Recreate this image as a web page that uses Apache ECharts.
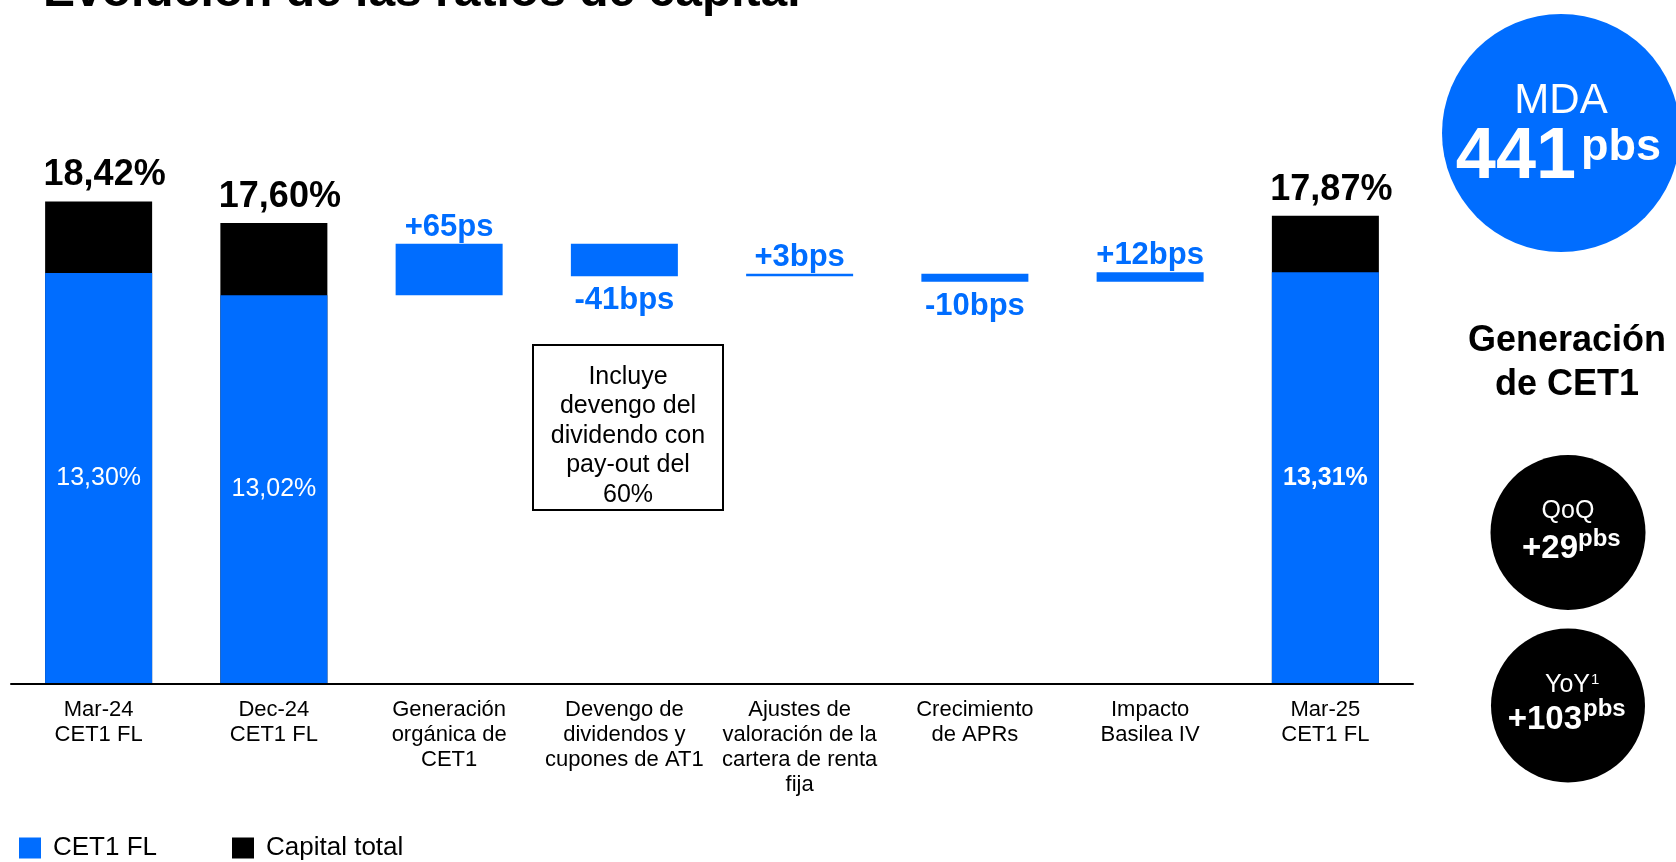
<!DOCTYPE html>
<html>
<head>
<meta charset="utf-8">
<script src="https://cdn.jsdelivr.net/npm/echarts@6/dist/echarts.min.js"></script>
<style>
  html, body { margin: 0; padding: 0; background: #ffffff; }
  #chart { width: 1676px; height: 862px; }
</style>
</head>
<body>
<div id="chart"></div>
<script>
// ---- data ----
const categories = [
  'Mar-24\nCET1 FL',
  'Dec-24\nCET1 FL',
  'Generación\norgánica de\nCET1',
  'Devengo de\ndividendos y\ncupones de AT1',
  'Ajustes de\nvaloración de la\ncartera de renta\nfija',
  'Crecimiento\nde APRs',
  'Impacto\nBasilea IV',
  'Mar-25\nCET1 FL'
];
const cet1Values = [13.30, 13.02, null, null, null, null, null, 13.31];
const capitalTotalValues = [18.42, 17.60, null, null, null, null, null, 17.87];
// quarterly bridge Dec-24 -> Mar-25, in percentage points
const bridgeSteps = [0.65, -0.41, 0.03, -0.10, 0.12];
const bridgeLabels = ['+65ps', '-41bps', '+3bps', '-10bps', '+12bps'];
const legendNames = ['CET1 FL', 'Capital total'];

// ---- styling ----
const BLUE = '#006DFF';
const FONT = '"Liberation Sans", Arial, Helvetica, sans-serif';
const pct = v => v.toFixed(2).replace('.', ',') + '%';

// waterfall: invisible base + visible step, stacked
const bridgeStart = 2;
const baseData = categories.map(() => '-');
const stepData = categories.map(() => '-');
let level = cet1Values[1];
bridgeSteps.forEach((d, i) => {
  const idx = bridgeStart + i;
  const next = level + d;
  baseData[idx] = Math.min(level, next);
  stepData[idx] = {
    value: Math.abs(d),
    label: {
      position: d >= 0 ? 'top' : 'bottom',
      distance: d >= 0 ? 1 : 9,
      formatter: bridgeLabels[i]
    }
  };
  level = next;
});

const cet1Data = cet1Values.map((v, i) => v == null ? '-' : {
  value: v,
  label: { fontWeight: i === cet1Values.length - 1 ? 'bold' : 'normal' }
});
const totalData = capitalTotalValues.map(v => v == null ? '-' : v);

const BAR_W = 107;

function txt(x, y, text, size, weight, color, align, extra) {
  return {
    type: 'text', x: x, y: y, silent: true, z: 10,
    style: Object.assign({
      text: text,
      font: weight + ' ' + size + 'px ' + FONT,
      fill: color,
      align: align || 'center',
      verticalAlign: 'middle'
    }, extra || {})
  };
}

const chart = echarts.init(document.getElementById('chart'), null, { renderer: 'canvas' });
chart.setOption({
  animation: false,
  backgroundColor: '#ffffff',
  textStyle: { fontFamily: FONT },
  grid: { left: 11, right: 263, top: 160, bottom: 178, containLabel: false },
  legend: {
    data: legendNames,
    left: 19, top: 835, padding: 0,
    orient: 'horizontal',
    icon: 'rect', itemWidth: 22, itemHeight: 21, itemGap: 75,
    selectedMode: false,
    textStyle: { fontSize: 26, color: '#000', fontFamily: FONT, padding: [0, 0, 0, 7] }
  },
  xAxis: {
    type: 'category',
    data: categories,
    axisTick: { show: false },
    axisLine: { show: true, lineStyle: { color: '#000', width: 2 } },
    axisLabel: {
      interval: 0, margin: 13,
      fontSize: 22, lineHeight: 25, color: '#000', fontFamily: FONT
    },
    z: 5
  },
  yAxis: [
    { type: 'value', min: 8.1, max: 14.73, show: false, splitLine: { show: false } },
    { type: 'value', min: 0, max: 20, show: false, splitLine: { show: false } }
  ],
  series: [
    {
      name: 'Capital total', type: 'bar', yAxisIndex: 1,
      data: totalData, barWidth: BAR_W, barGap: '-100%', clip: true,
      itemStyle: { color: '#000000' },
      label: {
        show: true, position: 'top', distance: 8, offset: [6, 0],
        formatter: p => pct(p.value),
        fontSize: 36, fontWeight: 'bold', color: '#000', fontFamily: FONT
      }
    },
    {
      name: 'base', type: 'bar', stack: 'bridge', yAxisIndex: 0,
      data: baseData, barWidth: BAR_W, barGap: '-100%', clip: true,
      silent: true,
      itemStyle: { color: 'rgba(0,0,0,0)' },
      label: { show: false }
    },
    {
      name: 'bridge', type: 'bar', stack: 'bridge', yAxisIndex: 0,
      data: stepData, barWidth: BAR_W, barGap: '-100%', clip: true,
      itemStyle: { color: BLUE },
      label: {
        show: true, fontSize: 31, fontWeight: 'bold', color: BLUE, fontFamily: FONT
      }
    },
    {
      name: 'CET1 FL', type: 'bar', yAxisIndex: 0,
      data: cet1Data, barWidth: BAR_W, barGap: '-100%', clip: true,
      itemStyle: { color: BLUE },
      label: {
        show: true, position: 'inside',
        formatter: p => pct(p.value),
        fontSize: 25, color: '#fff', fontFamily: FONT
      }
    }
  ],
  graphic: [
    // heading, partially above the top edge
    txt(43, -7, 'Evolución de las ratios de capital', 48, 'bold', '#000', 'left'),
    // note box on the dividend step
    {
      type: 'rect', silent: true, z: 9,
      shape: { x: 533, y: 345, width: 190, height: 165 },
      style: { fill: '#fff', stroke: '#000', lineWidth: 2 }
    },
    txt(628, 436, 'Incluye\ndevengo del\ndividendo con\npay-out del\n60%', 25, 'normal', '#000', 'center', { lineHeight: 29.4 }),
    // MDA badge
    { type: 'circle', silent: true, z: 9, shape: { cx: 1561, cy: 133, r: 119 }, style: { fill: BLUE } },
    txt(1561, 101.5, 'MDA', 42, 'normal', '#fff', 'center'),
    txt(1576, 158.5, '441', 72, 'bold', '#fff', 'right'),
    txt(1581, 148, 'pbs', 45, 'bold', '#fff', 'left'),
    // CET1 generation
    txt(1567, 363, 'Generación\nde CET1', 36, 'bold', '#000', 'center', { lineHeight: 44.5 }),
    { type: 'circle', silent: true, z: 9, shape: { cx: 1568, cy: 532.5, r: 77.5 }, style: { fill: '#000' } },
    txt(1568, 511.5, 'QoQ', 25, 'normal', '#fff', 'center'),
    txt(1578, 548.5, '+29', 33, 'bold', '#fff', 'right'),
    txt(1578, 539, 'pbs', 24, 'bold', '#fff', 'left'),
    { type: 'circle', silent: true, z: 9, shape: { cx: 1568, cy: 705.5, r: 77 }, style: { fill: '#000' } },
    txt(1590, 685, 'YoY', 25, 'normal', '#fff', 'right'),
    txt(1591, 680, '1', 15, 'normal', '#fff', 'left'),
    txt(1582, 719.5, '+103', 33, 'bold', '#fff', 'right'),
    txt(1583, 709, 'pbs', 24, 'bold', '#fff', 'left')
  ]
});
</script>
</body>
</html>
